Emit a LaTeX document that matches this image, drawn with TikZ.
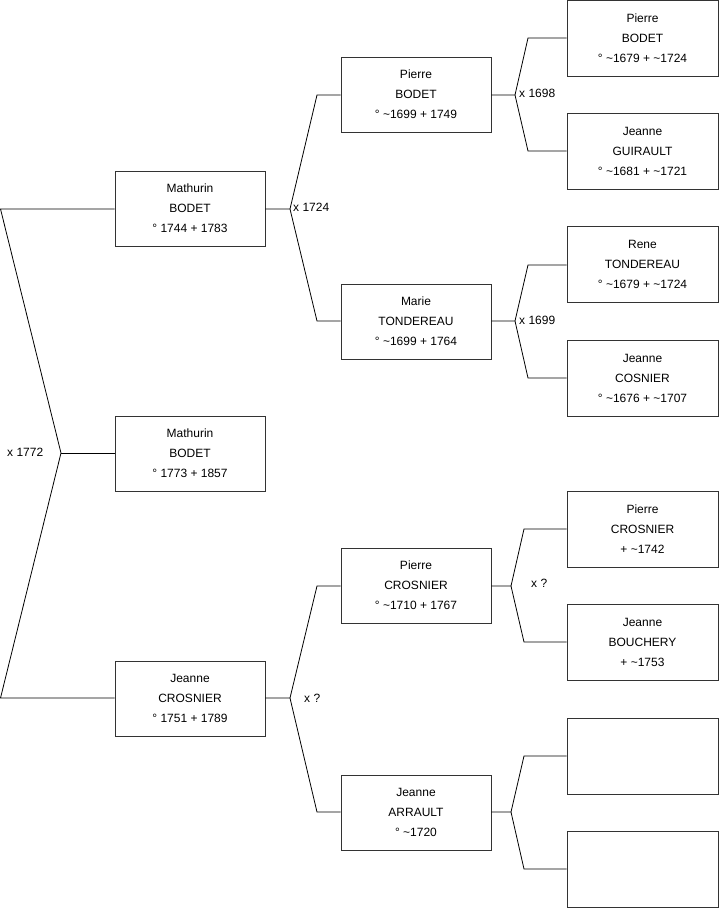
\documentclass[tikz,border=0pt]{standalone}
\usepackage{fontspec}
\setmainfont{Liberation Sans}
\newcommand{\tl}{\textasciitilde}
\begin{document}
\begin{tikzpicture}[x=1pt,y=-1pt,
  person/.style={draw=black!80,line width=0.8pt,minimum width=150pt,minimum height=75pt,align=center,inner sep=0pt,font=\fontsize{12}{20}\selectfont},
  link/.style={draw=black,line width=0.8pt},
  lbl/.style={anchor=west,inner sep=0pt,font=\fontsize{12}{14}\selectfont}]
\useasboundingbox (0,0) rectangle (719,908);
% generation 1-2
\node[person] (A) at (190,208.5) {Mathurin\\BODET\\° 1744 + 1783};
\node[person] (B) at (190,453.5) {Mathurin\\BODET\\° 1773 + 1857};
\node[person] (C) at (190,698.5) {Jeanne\\CROSNIER\\° 1751 + 1789};
\node[person] (D) at (416,94.5) {Pierre\\BODET\\° \tl1699 + 1749};
\node[person] (E) at (416,321.5) {Marie\\TONDEREAU\\° \tl1699 + 1764};
\node[person] (F) at (416,585.5) {Pierre\\CROSNIER\\° \tl1710 + 1767};
\node[person] (G) at (416,812.5) {Jeanne\\ARRAULT\\° \tl1720};
\node[person,minimum width=151pt,minimum height=76pt] (R1) at (642.5,38) {Pierre\\BODET\\° \tl1679 + \tl1724};
\node[person,minimum width=151pt,minimum height=76pt] (R2) at (642.5,151) {Jeanne\\GUIRAULT\\° \tl1681 + \tl1721};
\node[person,minimum width=151pt,minimum height=76pt] (R3) at (642.5,264.5) {Rene\\TONDEREAU\\° \tl1679 + \tl1724};
\node[person,minimum width=151pt,minimum height=76pt] (R4) at (642.5,378) {Jeanne\\COSNIER\\° \tl1676 + \tl1707};
\node[person,minimum width=151pt,minimum height=76pt] (R5) at (642.5,529) {Pierre\\CROSNIER\\ + \tl1742};
\node[person,minimum width=151pt,minimum height=76pt] (R6) at (642.5,642) {Jeanne\\BOUCHERY\\ + \tl1753};
\node[person,minimum width=151pt,minimum height=76pt] (R7) at (642.5,756) {};
\node[person,minimum width=151pt,minimum height=76pt] (R8) at (642.5,869) {};
% fork coordinates
\coordinate (L1) at (0.5,209);
\coordinate (L2) at (0.5,698);
\coordinate (f0) at (61,453);
\coordinate (fA) at (290,209);
\coordinate (fAt) at (317,95);
\coordinate (fAb) at (317,321);
\coordinate (fC) at (290,698);
\coordinate (fCt) at (317,586);
\coordinate (fCb) at (317,812);
\coordinate (fD) at (515,95);
\coordinate (fDt) at (528,38);
\coordinate (fDb) at (528,151);
\coordinate (fE) at (515,321);
\coordinate (fEt) at (528,265);
\coordinate (fEb) at (528,378);
\coordinate (fF) at (511,586);
\coordinate (fFt) at (524,529);
\coordinate (fFb) at (524,642);
\coordinate (fG) at (511,812);
\coordinate (fGt) at (524,756);
\coordinate (fGb) at (524,869);
% connectors
\draw[link] (A.west |- L1) -- (L1) -- (f0) -- (L2) -- (C.west |- L2);
\draw[link] (f0) -- (B.west |- f0);
\draw[link] (A.east |- fA) -- (fA) -- (fAt) -- (D.west |- fAt);
\draw[link] (fA) -- (fAb) -- (E.west |- fAb);
\draw[link] (C.east |- fC) -- (fC) -- (fCt) -- (F.west |- fCt);
\draw[link] (fC) -- (fCb) -- (G.west |- fCb);
\draw[link] (D.east |- fD) -- (fD) -- (fDt) -- (R1.west |- fDt);
\draw[link] (fD) -- (fDb) -- (R2.west |- fDb);
\draw[link] (E.east |- fE) -- (fE) -- (fEt) -- (R3.west |- fEt);
\draw[link] (fE) -- (fEb) -- (R4.west |- fEb);
\draw[link] (F.east |- fF) -- (fF) -- (fFt) -- (R5.west |- fFt);
\draw[link] (fF) -- (fFb) -- (R6.west |- fFb);
\draw[link] (G.east |- fG) -- (fG) -- (fGt) -- (R7.west |- fGt);
\draw[link] (fG) -- (fGb) -- (R8.west |- fGb);
% marriage labels
\node[lbl] (m0) at (7,452) {x 1772};
\node[lbl] (mA) at (293,207) {x 1724};
\node[lbl] (mD) at (519,93) {x 1698};
\node[lbl] (mE) at (519,320) {x 1699};
\node[lbl] (mC) at (304,698) {x ?};
\node[lbl] (mF) at (531,583) {x ?};
\end{tikzpicture}
\end{document}
